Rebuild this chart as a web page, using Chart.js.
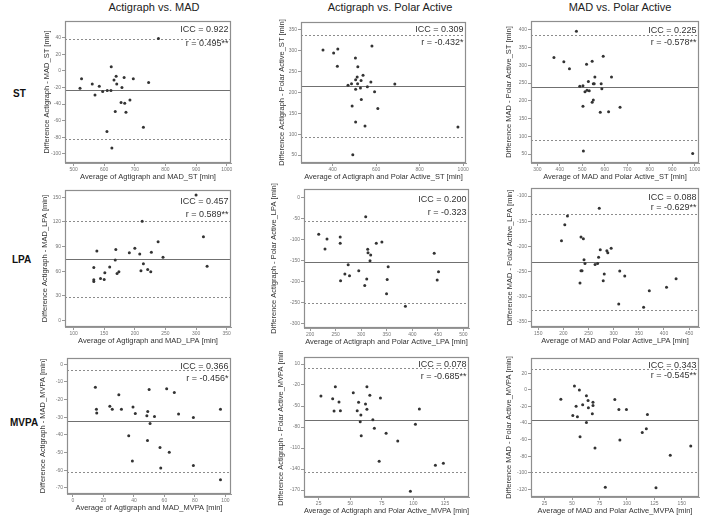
<!DOCTYPE html>
<html><head><meta charset="utf-8">
<script src="https://cdn.jsdelivr.net/npm/chart.js@4.4.1/dist/chart.umd.min.js"></script>
<style>
html,body{margin:0;padding:0;background:#fff;}
#wrap{position:relative;width:708px;height:516px;overflow:hidden;font-family:"Liberation Sans",Arial,sans-serif;}
.col{position:absolute;top:1px;font-size:11px;color:#222;transform:translateX(-50%);white-space:nowrap;}
.row{position:absolute;font-weight:bold;font-size:10px;color:#111;transform:translateY(-50%);}
canvas{position:absolute;}
</style></head><body><div id="wrap"></div>
<script>
// ---------- column / row labels ----------
const COLUMN_TITLES = ["Actigraph vs. MAD", "Actigraph vs. Polar Active", "MAD vs. Polar Active"];
const ROW_TITLES = ["ST", "LPA", "MVPA"];

// ---------- ST ----------
const ST_AM_avg  = [777,623,526,521,561,584,570,595,610,622,639,632,641,665,658,695,745,655,667,684,636,671,728,609,625];
const ST_AM_diff = [39,4.8,-9.6,-20.9,-16,-18.5,-29,-25,-23.7,-23.7,-6.4,-11,-16,-8,-20,-9.6,-14,-38,-39,-35,-49,-50,-68,-73,-93];
const ST_AM_lines = [-22.5, 38.8, -82.5];           // mean, upper LoA, lower LoA
const ST_AM_stats = ["ICC = 0.922", "r = 0.495**"];
const ST_AM_xTicks = [500,600,700,800,900,1000];
const ST_AM_yTicks = [-100,-80,-60,-40,-20,0,20,40];

const ST_AP_avg  = [356,405,424,422,581,505,516,540,513,506,531,487,471,515,576,560,528,506,593,686,532,608,490,506,549,976,493];
const ST_AP_diff = [301,294,303.5,262,310.7,282,261,240.6,236.6,230,228,220.7,216.7,220.7,224.7,213.5,210,207,201,220,183,161,167,129,119.6,117,51];
const ST_AP_lines = [215, 337.5, 93];
const ST_AP_stats = ["ICC = 0.309", "r = -0.432*"];
const ST_AP_xTicks = [400,600,800,1000];
const ST_AP_yTicks = [50,100,150,200,250,300,350];

const ST_MP_avg  = [474,374,418,443,519,544,593,556,630,527,503,489,549,553,584,587,521,531,512,549,544,503,668,580,617,505,991];
const ST_MP_diff = [396,322,310,290,302.5,311,325,267,267,254,242.5,240.6,248,248,248,234,230,228,225.6,202,195.6,185,181.5,167.5,169,58.6,52];
const ST_MP_lines = [237.8, 386, 90.6];
const ST_MP_stats = ["ICC = 0.225", "r = -0.578**"];
const ST_MP_xTicks = [300,400,500,600,700,800,900,1000];
const ST_MP_yTicks = [50,100,150,200,250,300,350,400];

// ---------- LPA ----------
const LPA_AM_avg  = [300,212,312,238,138,169,191,200,208,227,246,168,214,318,133,159,210,221,226,174,171,151,144,150,133,133];
const LPA_AM_diff = [152.8,121,102,96,84.5,86.6,82.5,88,81,83,77,73.6,69,66,64.6,65,60.6,62,59.3,59.3,57.3,58,51,50,49.6,47.6];
const LPA_AM_lines = [74.4, 120.7, 28.5];
const LPA_AM_stats = ["ICC = 0.457", "r = 0.589**"];
const LPA_AM_xTicks = [100,150,200,250,300,350];
const LPA_AM_yTicks = [0,30,60,90,120,150];

const LPA_AP_avg  = [308.8,216.8,233,258.9,258.9,229.1,312.7,329.5,340.5,313.3,318.5,317.2,442.9,274.5,268,277.1,259.6,295.2,352.8,310.8,306.9,350.9,451.3,448.7,349.6,386.5];
const LPA_AP_diff = [-45.2,-87.3,-98.4,-93.7,-108.7,-122.2,-123,-108.7,-105.6,-131,-136.5,-150,-132.5,-159.5,-181.7,-185.7,-197.6,-173.8,-164.3,-193.7,-208.7,-194.4,-176.2,-196,-228.6,-258];
const LPA_AP_lines = [-152, -56, -251];
const LPA_AP_stats = ["ICC = 0.200", "r = -0.323"];
const LPA_AP_xTicks = [200,250,300,350,400,450,500];
const LPA_AP_yTicks = [-300,-250,-200,-150,-100,-50,0];

const LPA_MP_avg  = [271.3,208.1,202.8,196.2,235,239.7,273.3,295,286.4,288.3,270,241,242.9,263,268,235,237,281.2,312,322,233,279.2,370.8,405,424,359.5,310];
const LPA_MP_diff = [-124.5,-139.8,-157,-188.9,-181.6,-184.9,-206.8,-204.1,-208.8,-212.7,-222,-226.7,-234,-236,-234,-248.5,-248.5,-255,-249,-259,-273,-268.4,-288.3,-281.7,-264.5,-321.5,-314.9];
const LPA_MP_lines = [-231.8, -135.4, -327];
const LPA_MP_stats = ["ICC = 0.088", "r = -0.629**"];
const LPA_MP_xTicks = [150,200,250,300,350,400,450];
const LPA_MP_yTicks = [-350,-300,-250,-200,-150,-100];

// ---------- MVPA ----------
const MVPA_AM_avg  = [14.7,30.1,50,61.5,66.5,24.2,15.4,15.6,25.8,31.8,39.4,40.9,49.1,48.5,53.5,69.3,79,96.8,50.6,36.6,48.9,57.1,63.2,39,57.6,79,96.8];
const MVPA_AM_diff = [-13,-17.2,-14.2,-13.8,-15.9,-23.8,-25.5,-27.6,-25.5,-25.5,-24.2,-27.8,-26.8,-29.1,-29.5,-28.2,-30.1,-25.5,-33.5,-40.5,-43.1,-47.1,-49.9,-54.8,-58.8,-57.3,-65.4];
const MVPA_AM_lines = [-32.1, -3.4, -61.2];
const MVPA_AM_stats = ["ICC = 0.366", "r = -0.456*"];
const MVPA_AM_xTicks = [0,20,40,60,80,100];
const MVPA_AM_yTicks = [-70,-60,-50,-40,-30,-20,-10,0];

const MVPA_AP_avg  = [38.2,63.2,26.8,52.4,65.5,36.1,41.1,56.6,62.1,73.9,37.2,42.2,55.5,63.2,58.4,57.9,67.9,104.7,69.1,101.6,78.4,58.7,87.6,72.9,117.4,123.7,97.6];
const MVPA_AP_diff = [-22.4,-22.4,-35.7,-31,-34.8,-39.5,-44.3,-44.8,-47.1,-38.6,-57.1,-56.7,-56.7,-54.8,-62.9,-72.4,-69.5,-54.3,-81.9,-76.2,-89,-92.4,-100,-129,-134.8,-131.9,-171.9];
const MVPA_AP_lines = [-69.5, 4.8, -143.8];
const MVPA_AP_stats = ["ICC = 0.078", "r = -0.685**"];
const MVPA_AP_xTicks = [25,50,75,100,125];
const MVPA_AP_yTicks = [-170,-140,-110,-80,-50,-20,10];

const MVPA_MP_avg  = [52.2,56.7,39.8,53.7,59.7,50.7,54.9,63.1,64.6,64.9,69.1,69.1,68.5,63.1,89,92.7,99.6,118.7,57.3,70.9,93.6,114,117.7,80.3,126.5,139.5,158.2];
const MVPA_MP_diff = [4.8,0,-11.2,-19.6,-18,-30.8,-32.4,-7.2,-12.8,-21.6,-14.8,-18.8,-28.8,-39.2,-11.6,-23.6,-23.6,-29.6,-56.4,-70,-60.4,-51.2,-46.8,-117.2,-118,-78.8,-67.6];
const MVPA_MP_lines = [-36.8, 25.6, -98.8];
const MVPA_MP_stats = ["ICC = 0.343", "r = -0.545**"];
const MVPA_MP_xTicks = [25,50,75,100,125,150];
const MVPA_MP_yTicks = [-120,-100,-80,-60,-40,-20,0,20];

// ---------- axis titles ----------
const X_TITLES = [
  "Average of Agtigraph and MAD_ST [min]", "Average of Actigraph and Polar Active_ST [min]", "Average of MAD and Polar Active_ST [min]",
  "Average of Agtigraph and MAD_LPA [min]", "Average of Actigraph and Polar Active_LPA [min]", "Average of MAD and Polar Active_LPA [min]",
  "Average of Agtigraph and MAD_MVPA [min]", "Average of Actigraph and Polar Active_MVPA [min]", "Average of MAD and Polar Active_MVPA [min]"];
const Y_TITLES = [
  "Difference Actigraph - MAD_ST [min]", "Difference Actigraph - Polar Active_ST [min]", "Difference MAD - Polar Active_ST [min]",
  "Difference Actigraph - MAD_LPA [min]", "Difference Actigraph - Polar Active_LPA [min]", "Difference MAD - Polar Active_LPA [min]",
  "Difference Actigraph - MAD_MVPA [min]", "Difference Actigraph - Polar Active_MVPA [min]", "Difference MAD - Polar Active_MVPA [min]"];

// axis ranges [min,max]
const X_RANGES = [[472,1014],[255,1013],[272,1019],[86,357],[188,511],[135.6,469.6],[-3.9,103.7],[13.4,144],[12.6,165.7]];
const Y_RANGES = [[-111,60],[31,368],[25,424.5],[-8,159],[-310,20.5],[-360.6,-84],[-73.5,3.6],[-180,20],[-129,38.4]];

// ---------- layout (plot box in page pixels, y-axis band width, text offsets) ----------
const LAYOUT = [
  {l:65, t:21, r:232,b:163,W:24,tx:[9,23]},
  {l:301,t:22, r:467,b:163,W:25,tx:[8,21]},
  {l:531,t:21, r:700,b:163,W:28,tx:[9.5,22]},
  {l:65, t:190,r:232,b:327,W:26,tx:[12,25]},
  {l:304,t:189,r:470,b:328,W:36,tx:[11,24]},
  {l:531,t:188,r:700,b:327,W:27,tx:[9.5,20]},
  {l:67, t:358,r:232,b:494,W:30,tx:[9,21]},
  {l:304,t:357,r:470,b:497,W:29,tx:[8,20]},
  {l:531,t:358,r:700,b:497,W:28,tx:[8,18]}
];
const H = 18, PT = 6, PR = 3;

const PANELS = [
  [ST_AM_avg,ST_AM_diff,ST_AM_lines,ST_AM_stats,ST_AM_xTicks,ST_AM_yTicks],
  [ST_AP_avg,ST_AP_diff,ST_AP_lines,ST_AP_stats,ST_AP_xTicks,ST_AP_yTicks],
  [ST_MP_avg,ST_MP_diff,ST_MP_lines,ST_MP_stats,ST_MP_xTicks,ST_MP_yTicks],
  [LPA_AM_avg,LPA_AM_diff,LPA_AM_lines,LPA_AM_stats,LPA_AM_xTicks,LPA_AM_yTicks],
  [LPA_AP_avg,LPA_AP_diff,LPA_AP_lines,LPA_AP_stats,LPA_AP_xTicks,LPA_AP_yTicks],
  [LPA_MP_avg,LPA_MP_diff,LPA_MP_lines,LPA_MP_stats,LPA_MP_xTicks,LPA_MP_yTicks],
  [MVPA_AM_avg,MVPA_AM_diff,MVPA_AM_lines,MVPA_AM_stats,MVPA_AM_xTicks,MVPA_AM_yTicks],
  [MVPA_AP_avg,MVPA_AP_diff,MVPA_AP_lines,MVPA_AP_stats,MVPA_AP_xTicks,MVPA_AP_yTicks],
  [MVPA_MP_avg,MVPA_MP_diff,MVPA_MP_lines,MVPA_MP_stats,MVPA_MP_xTicks,MVPA_MP_yTicks]
];

const wrap = document.getElementById('wrap');
const COL_X = [154, 390, 620];
COLUMN_TITLES.forEach((t,i)=>{const d=document.createElement('div');d.className='col';d.style.left=COL_X[i]+'px';d.textContent=t;wrap.appendChild(d);});
const ROW_POS = [[13,93],[12,259],[10,422]];
ROW_TITLES.forEach((t,i)=>{const d=document.createElement('div');d.className='row';d.style.left=ROW_POS[i][0]+'px';d.style.top=ROW_POS[i][1]+'px';d.textContent=t;wrap.appendChild(d);});

const FONT = '"Liberation Sans", Arial, sans-serif';

const blandPlugin = {
  id: 'bland',
  beforeDatasetsDraw(chart, args, o) {
    const {ctx, chartArea: a} = chart;
    const y = chart.scales.y;
    ctx.save();
    ctx.lineWidth = 1;
    const py = v => Math.round(y.getPixelForValue(v)) + 0.5;
    ctx.strokeStyle = '#707070';
    ctx.setLineDash([]);
    ctx.beginPath(); ctx.moveTo(a.left, py(o.lines[0])); ctx.lineTo(a.right, py(o.lines[0])); ctx.stroke();
    ctx.strokeStyle = '#8c8c8c';
    ctx.setLineDash([2, 2]);
    [o.lines[1], o.lines[2]].forEach(v => {
      ctx.beginPath(); ctx.moveTo(a.left, py(v)); ctx.lineTo(a.right, py(v)); ctx.stroke();
    });
    ctx.restore();
  },
  afterDraw(chart, args, o) {
    const {ctx, chartArea: a} = chart;
    ctx.save();
    ctx.setLineDash([]);
    ctx.strokeStyle = '#8e8e8e';
    ctx.lineWidth = 1.2;
    ctx.strokeRect(Math.round(a.left)+0.5, Math.round(a.top)+0.5, Math.round(a.right-a.left)-1, Math.round(a.bottom-a.top)-1);
    ctx.fillStyle = '#333';
    ctx.font = '9px ' + FONT;
    ctx.textAlign = 'right';
    ctx.textBaseline = 'middle';
    ctx.fillText(o.stats[0], a.right - 2.5, a.top + o.tx[0]);
    ctx.fillText(o.stats[1], a.right - 2.5, a.top + o.tx[1]);
    ctx.restore();
  }
};

PANELS.forEach((p, i) => {
  const [avg, diff, lines, stats, xt, yt] = p;
  const L = LAYOUT[i];
  const cw = (L.r - L.l) + L.W + PR;
  const ch = (L.b - L.t) + PT + H;
  const cv = document.createElement('canvas');
  cv.width = cw; cv.height = ch;
  cv.style.left = (L.l - L.W) + 'px';
  cv.style.top = (L.t - PT) + 'px';
  cv.style.width = cw + 'px'; cv.style.height = ch + 'px';
  wrap.appendChild(cv);
  const tickCommon = {font: {size: 5, family: FONT}, color: '#777', padding: 1, autoSkip: false, maxRotation: 0,
    callback: v => String(v)};
  const gridCommon = {display: true, drawOnChartArea: false, drawTicks: true, tickLength: 3, color: '#999'};
  new Chart(cv, {
    type: 'scatter',
    data: {datasets: [{
      data: avg.map((x, k) => ({x: x, y: diff[k]})),
      pointRadius: 1.5, pointBackgroundColor: '#333', pointBorderWidth: 0, pointStyle: 'circle'
    }]},
    options: {
      responsive: false, animation: false, devicePixelRatio: 1, events: [],
      layout: {padding: {top: PT, right: PR, left: 0, bottom: 0}},
      plugins: {legend: {display: false}, tooltip: {enabled: false},
        bland: {lines: lines, stats: stats, tx: L.tx}},
      scales: {
        x: {
          type: 'linear', min: X_RANGES[i][0], max: X_RANGES[i][1],
          afterBuildTicks: s => { s.ticks = xt.map(v => ({value: v})); },
          afterFit: s => { s.height = H; },
          grid: gridCommon, border: {display: true, color: '#999'},
          ticks: tickCommon,
          title: {display: true, text: X_TITLES[i], font: {size: 7.5, family: FONT}, color: '#333', padding: 0}
        },
        y: {
          type: 'linear', min: Y_RANGES[i][0], max: Y_RANGES[i][1],
          afterBuildTicks: s => { s.ticks = yt.map(v => ({value: v})); },
          afterFit: s => { s.width = L.W; },
          grid: gridCommon, border: {display: true, color: '#999'},
          ticks: tickCommon,
          title: {display: true, text: Y_TITLES[i], font: {size: 7.5, family: FONT}, color: '#333', padding: {top: 1.5, bottom: 0}}
        }
      }
    },
    plugins: [blandPlugin]
  });
});
</script>
</body></html>
